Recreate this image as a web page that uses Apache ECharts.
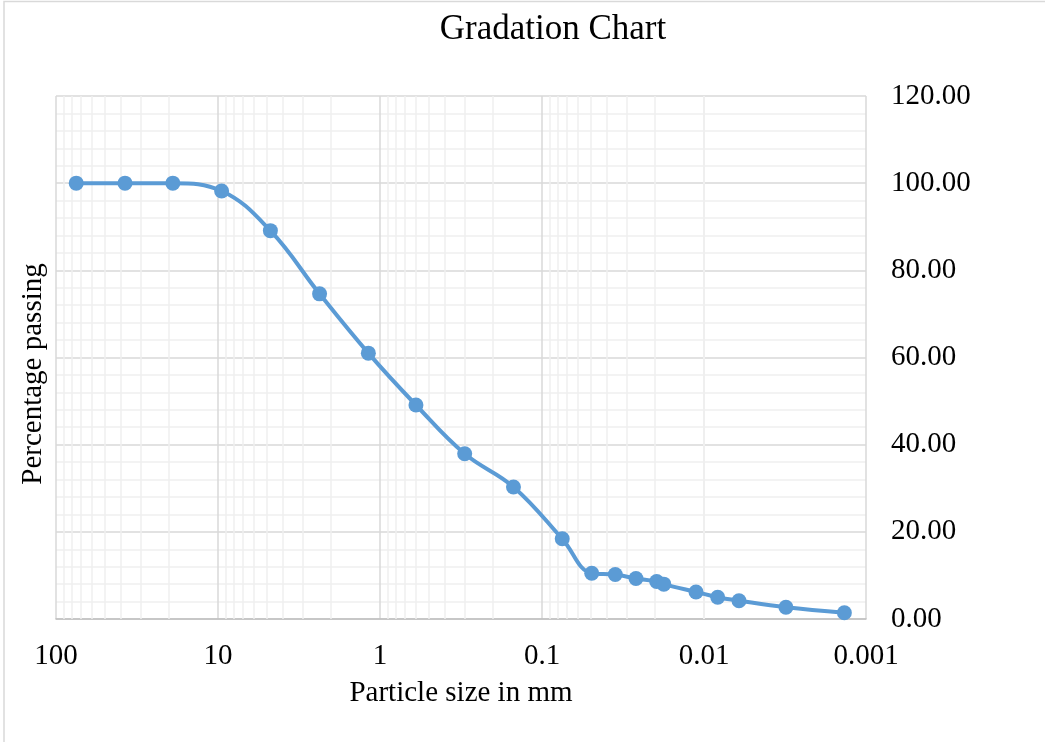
<!DOCTYPE html>
<html>
<head>
<meta charset="utf-8">
<script src="https://cdn.jsdelivr.net/npm/echarts@6/dist/echarts.min.js"></script>
<style>
  html, body { margin: 0; padding: 0; background: #ffffff; }
  #chart { width: 1045px; height: 742px; }
</style>
</head>
<body>
<div id="chart"></div>
<script>
// Particle size (mm) and percentage passing
const particleSize = [75, 37.5, 19, 9.5, 4.75, 2.36, 1.18, 0.6, 0.3, 0.15, 0.075,
  0.0493, 0.0353, 0.0263, 0.0196, 0.0177, 0.0112, 0.00823, 0.00608, 0.00312, 0.00136];
const percentPassing = [100, 100, 100, 98.2, 89.1, 74.6, 61.0, 49.1, 37.9, 30.3, 18.4,
  10.5, 10.2, 9.3, 8.6, 8.0, 6.2, 5.0, 4.2, 2.7, 1.45];
const xTickLabels = ['0.001', '0.01', '0.1', '1', '10', '100'];
const xDecades = [0.001, 0.01, 0.1, 1, 10];
const minorMultipliers = [2, 3, 4, 5, 6, 7, 8, 9];

const FONT = "'Liberation Serif', 'Times New Roman', serif";
const minorX = [];
xDecades.forEach(d => minorMultipliers.forEach(m => minorX.push(+(d * m).toPrecision(3))));

const chart = echarts.init(document.getElementById('chart'));
chart.setOption({
  animation: false,
  backgroundColor: '#ffffff',
  grid: { left: 56, right: 179, top: 96, bottom: 123, containLabel: false, outerBoundsMode: 'none' },
  graphic: [
    { type: 'rect', shape: { x: 4, y: 1.5, width: 1100, height: 800 }, style: { fill: 'none', stroke: '#d9d9d9', lineWidth: 1.5 }, silent: true },
    { type: 'text', x: 553, y: 30, style: { text: 'Gradation Chart', font: '35px ' + FONT, fill: '#000000', textAlign: 'center', textVerticalAlign: 'middle' } },
    { type: 'text', x: 33, y: 374, rotation: Math.PI / 2, style: { text: 'Percentage passing', font: '29px ' + FONT, fill: '#000000', textAlign: 'center', textVerticalAlign: 'middle' } }
  ],
  xAxis: {
    type: 'log',
    logBase: 10,
    min: 0.001,
    max: 100,
    inverse: true,
    name: 'Particle size in mm',
    nameLocation: 'middle',
    nameGap: 60,
    nameTextStyle: { fontFamily: FONT, fontSize: 29, color: '#000000' },
    axisLine: { show: true, lineStyle: { color: '#bfbfbf', width: 1.5 } },
    axisTick: { show: false },
    axisLabel: {
      margin: 23,
      fontFamily: FONT, fontSize: 29, color: '#000000',
      formatter: v => xTickLabels[Math.round(Math.log10(v)) + 3]
    },
    splitLine: { show: true, lineStyle: { color: '#d9d9d9', width: 1.5 } }
  },
  yAxis: {
    type: 'value',
    position: 'right',
    min: 0, max: 120, interval: 20,
    axisLine: { show: false },
    axisTick: { show: false },
    axisLabel: {
      margin: 25,
      fontFamily: FONT, fontSize: 29, color: '#000000',
      formatter: v => v.toFixed(2)
    },
    splitLine: { show: true, lineStyle: { color: '#d9d9d9', width: 1.5 } },
    minorTick: { show: false, splitNumber: 5 },
    minorSplitLine: { show: true, lineStyle: { color: '#efefef', width: 1.5 } }
  },
  series: [
    {
      type: 'line',
      name: 'minor',
      data: [],
      silent: true,
      z: 1,
      markLine: {
        silent: true,
        z: 1,
        symbol: ['none', 'none'],
        label: { show: false },
        lineStyle: { color: '#efefef', width: 1.5, type: 'solid' },
        emphasis: { disabled: true },
        animation: false,
        data: minorX.map(v => ({ xAxis: v }))
      }
    },
    {
      type: 'line',
      name: 'Gradation',
      z: 3,
      data: particleSize.map((s, i) => [s, percentPassing[i]]),
      smooth: 0.4,
      symbol: 'circle',
      symbolSize: 15,
      itemStyle: { color: '#5b9bd5' },
      lineStyle: { color: '#5b9bd5', width: 4 }
    }
  ]
});
</script>
</body>
</html>
